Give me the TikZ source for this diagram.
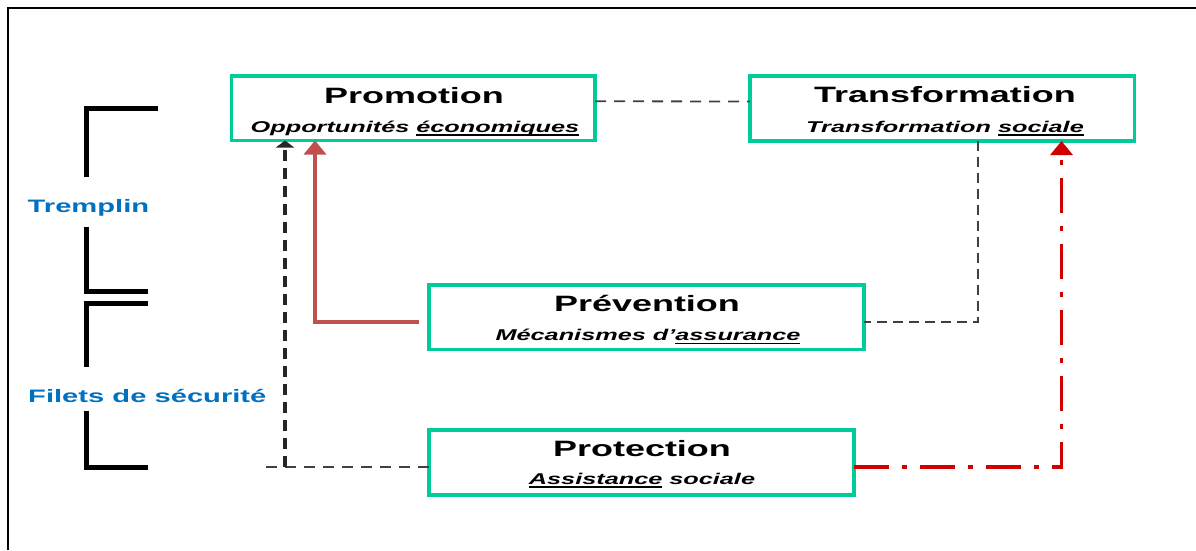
\documentclass[tikz,border=0pt]{standalone}
\usepackage{fontspec}
\setmainfont{Liberation Sans}
\newfontfamily\widefont[FakeStretch=1.62]{Liberation Sans}
\usetikzlibrary{arrows.meta}
\definecolor{boxgreen}{RGB}{0,204,153}
\definecolor{sideblue}{RGB}{0,112,192}
\definecolor{brownred}{RGB}{192,80,77}
\definecolor{dashred}{RGB}{208,0,0}
\definecolor{darkdash}{RGB}{38,38,38}
\definecolor{greydash}{RGB}{64,64,64}
\newcommand\myul[1]{\setbox0\hbox{#1}\rlap{\vrule height -2.2pt depth 3.5pt width \wd0\relax}\box0\relax}
\begin{document}
\begin{tikzpicture}[x=1pt,y=-1pt,
  box/.style={draw=boxgreen, line width=3.2pt, inner sep=0pt, outer sep=0pt},
  titletext/.style={font=\widefont\bfseries\fontsize{22.2}{26}\selectfont, anchor=base, inner sep=0pt},
  subtext/.style={font=\widefont\bfseries\itshape\fontsize{15.6}{18}\selectfont, anchor=base, inner sep=0pt},
  sidetext/.style={font=\widefont\bfseries\fontsize{18}{20}\selectfont, text=sideblue, anchor=base west, inner sep=0pt},
  bracketline/.style={line width=5pt, line join=miter},
  thindash/.style={draw=greydash, line width=1.8pt, dash pattern=on 11pt off 8pt},
  thickdash/.style={draw=darkdash, line width=3.6pt, dash pattern=on 11pt off 7pt},
  brownline/.style={draw=brownred, line width=3.4pt},
  reddashdot/.style={draw=dashred, line width=3.4pt, dash pattern=on 35pt off 13pt on 5pt off 13pt},
]
\useasboundingbox (0,0) rectangle (1196,550);
% frame
\draw[line width=2pt] (8.3,550) -- (8.3,7.7) -- (1196,7.7);

% boxes
\node[box, minimum width=363.5pt, minimum height=64.5pt] (promo) at (413.25,108.25) {};
\node[box, minimum width=384.5pt, minimum height=65pt] (trans) at (942.25,108.5) {};
\node[box, minimum width=435pt, minimum height=64.5pt] (prev) at (646.5,317.25) {};
\node[box, minimum width=425pt, minimum height=65pt] (prot) at (641.5,462.5) {};

% texts
\node[titletext] (promo-t) at (414,103) {Promotion};
\node[subtext] (promo-s) at (415,132) {Opportunités \myul{économiques}};
\node[titletext] (trans-t) at (945,102) {Transformation};
\node[subtext] (trans-s) at (945,132) {Transformation \myul{sociale}};
\node[titletext] (prev-t) at (647,311.7) {Prévention};
\node[subtext] (prev-s) at (648,340.7) {Mécanismes d’\myul{assurance}};
\node[titletext] (prot-t) at (642,456.7) {Protection};
\node[subtext] (prot-s) at (642,484) {\myul{Assistance} sociale};

\node[sidetext] (tremplin) at (27.5,212.7) {Tremplin};
\node[sidetext] (filets) at (28,402.3) {Filets de sécurité};

% brackets
\draw[bracketline] (158,108) -- (86,108) -- (86,177);
\draw[bracketline] (86,227) -- (86,291) -- (148,291);
\draw[bracketline] (148,303) -- (86,303) -- (86,367);
\draw[bracketline] (86,411) -- (86,467) -- (148,467);

% named bend points
\coordinate (b1) at (978,322);
\coordinate (b2) at (315,322);
\coordinate (b2s) at (418.5,322);
\coordinate (b3) at (285,467);
\coordinate (b3s) at (262,467);
\coordinate (b4) at (1061.5,467);

% connectors
\draw[thindash] ([yshift=7pt]promo.east) -- ([yshift=7pt]trans.west);
\draw[thindash, dash pattern=on 10pt off 6pt] (trans.south -| b1) -- (b1) -- (prev.east |- b1);
\draw[brownline, -{Triangle[width=22pt,length=14pt]}] (b2s) -- (b2) -- (promo.south -| b2);
\draw[thindash] (prot.west |- b3) -- (b3s);
\draw[thickdash, -{Triangle[width=18pt,length=7pt]}] (b3) -- (promo.south -| b3);
\draw[reddashdot, -{Triangle[width=22pt,length=14pt]}] (prot.east |- b4) -- (b4) -- (trans.south -| b4);
\end{tikzpicture}
\end{document}
